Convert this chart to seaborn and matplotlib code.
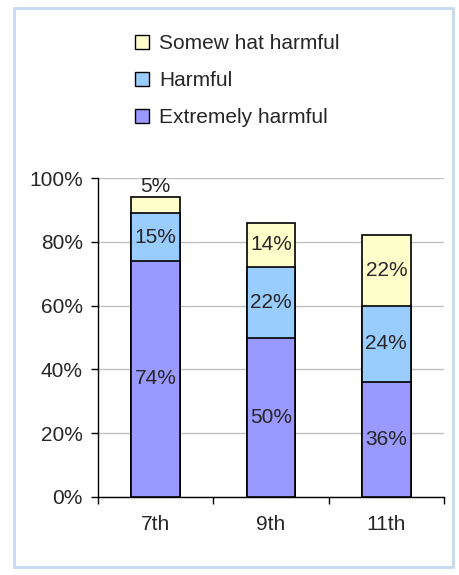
import matplotlib
matplotlib.use("Agg")
import matplotlib.pyplot as plt
import matplotlib.patches as mpatches
import numpy as np
import pandas as pd
import seaborn as sns

grades = ["7th", "9th", "11th"]
extremely = [74, 50, 36]
harmful = [15, 22, 24]
somewhat = [5, 14, 22]

series_names = ["Extremely harmful", "Harmful", "Somewhat harmful"]
legend_names = ["Extremely harmful", "Harmful", "Somew hat harmful"]
colors = ["#9999FF", "#99CCFF", "#FFFFCC"]

sns.set_style("white")
plt.rcParams["font.family"] = ["Liberation Sans", "DejaVu Sans"]
FS = 15

df = pd.DataFrame({"grade": grades, "Extremely harmful": extremely,
                   "Harmful": harmful, "Somewhat harmful": somewhat})
df["c1"] = df["Extremely harmful"]
df["c2"] = df["c1"] + df["Harmful"]
df["c3"] = df["c2"] + df["Somewhat harmful"]

fig = plt.figure(figsize=(4.59, 5.75), dpi=100)
ax = fig.add_axes([98 / 459, 1 - 497 / 575, (444 - 98) / 459, (497 - 178) / 575])

# stacked look: draw cumulative totals from the top down
for col, color in zip(["c3", "c2", "c1"], colors[::-1]):
    sns.barplot(data=df, x="grade", y=col, color=color, width=0.42,
                edgecolor="black", linewidth=1.2, saturation=1, ax=ax, zorder=3)

# value labels
for i in range(len(grades)):
    bottoms = [0, df["c1"][i], df["c2"][i]]
    vals = [df[s][i] for s in series_names]
    for b, v in zip(bottoms, vals):
        if v < 10:
            ax.text(i, b + v + 0.3, f"{v}%", ha="center", va="bottom", fontsize=FS)
        else:
            ax.text(i, b + v / 2, f"{v}%", ha="center", va="center", fontsize=FS)

ax.set_ylim(0, 100)
ax.set_xlim(-0.5, 2.5)
ax.set_yticks(range(0, 101, 20))
ax.set_yticklabels([f"{t}%" for t in range(0, 101, 20)], fontsize=FS)
ax.set_xticks([-0.5, 0.5, 1.5, 2.5])
ax.set_xticklabels([])
ax.set_xticks([0, 1, 2], minor=True)
ax.set_xticklabels(grades, minor=True, fontsize=FS)
ax.tick_params(axis="x", which="major", length=5, width=1, color="black", direction="out", bottom=True)
ax.tick_params(axis="x", which="minor", length=0, pad=13)
ax.tick_params(axis="y", length=5, width=1, color="black", direction="out", left=True, pad=6)
ax.yaxis.grid(True, color="#C0C0C0", linewidth=1, zorder=0)
ax.set_axisbelow(True)
ax.set_xlabel("")
ax.set_ylabel("")
for s in ["top", "right"]:
    ax.spines[s].set_visible(False)
for s in ["left", "bottom"]:
    ax.spines[s].set_color("black")
    ax.spines[s].set_linewidth(1)

handles = [mpatches.Patch(facecolor=c, edgecolor="black", linewidth=1)
           for c in colors[::-1]]
fig.legend(handles, legend_names[::-1], loc="upper left",
           bbox_to_anchor=(127 / 459, 1 - 26 / 575), frameon=False,
           fontsize=FS, labelspacing=0.86, handlelength=0.65, handleheight=0.65,
           handletextpad=0.5, borderaxespad=0)

# light blue outer frame
fig.patches.append(mpatches.Rectangle((14 / 459, 1 - 567 / 575), 439 / 459, 559 / 575,
                                      transform=fig.transFigure, fill=False,
                                      edgecolor="#C6D9F1", linewidth=2))

fig.savefig("out.png", dpi=100)
